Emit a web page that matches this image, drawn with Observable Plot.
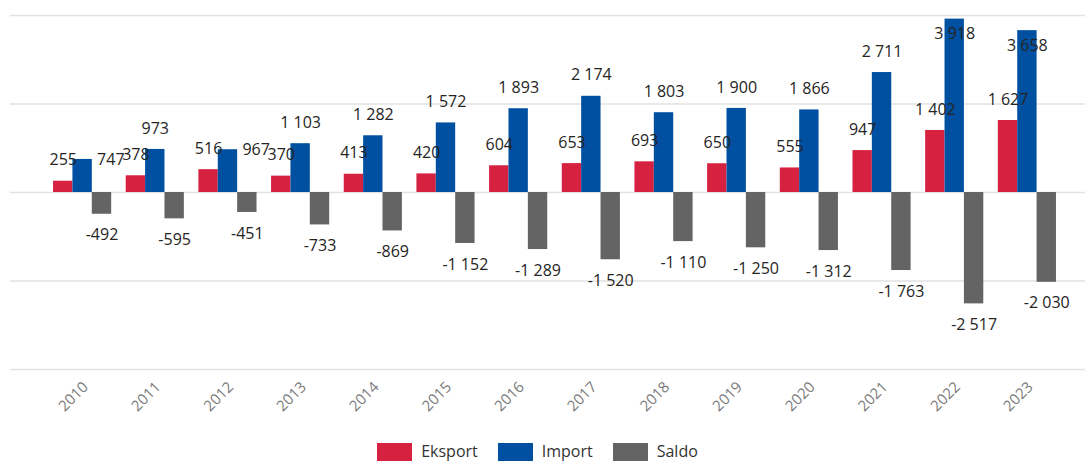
<!DOCTYPE html>
<html><head><meta charset="utf-8">
<script src="https://cdn.jsdelivr.net/npm/d3@7"></script>
<script src="https://cdn.jsdelivr.net/npm/@observablehq/plot@0.6"></script>
<style>
body{margin:0;background:#fff;font-family:"Open Sans",sans-serif;}
#chart{position:relative;width:1085px;height:440px;}
#chart svg{position:absolute;left:0;top:0;}
#legend{display:flex;justify-content:center;gap:20px;margin-top:3px;padding-right:10px;font-size:16px;line-height:17px;color:#333;}
.item{display:flex;align-items:flex-start;}
.sw{width:35px;height:18px;margin-right:9px;}
</style></head><body>
<div id="chart"></div><div id="legend"></div>
<script>
const years = ["2010","2011","2012","2013","2014","2015","2016","2017","2018","2019","2020","2021","2022","2023"];
const series = ["Eksport","Import","Saldo"];
const colors = ["#d62240","#0050a2","#646464"];
const eksport = [255,378,516,370,413,420,604,653,693,650,555,947,1402,1627];
const importV = [747,973,967,1103,1282,1572,1893,2174,1803,1900,1866,2711,3918,3658];
const saldo = [-492,-595,-451,-733,-869,-1152,-1289,-1520,-1110,-1250,-1312,-1763,-2517,-2030];
const gridValues = [-4000,-2000,0,2000,4000];

const yDomain = [-4000, 4000];
const W = 1085, H = 440, marginTop = 15, plotBottom = 369;
const pxPerUnit = (plotBottom - marginTop) / (yDomain[1] - yDomain[0]);
const labelGap = 21;

const loc = d3.formatLocale({decimal: ",", thousands: " ", grouping: [3], currency: ["", ""], minus: "-"});
const fmt = loc.format(",d");

const rows = [];
years.forEach((y, i) => {
  [eksport[i], importV[i], saldo[i]].forEach((v, j) => {
    const s = series[j];
    let mode;
    if (v < 0) mode = "below";
    else if (v + (labelGap + 7) / pxPerUnit > yDomain[1]) mode = "inside";
    else if (s === "Import" && (importV[i] - eksport[i]) * pxPerUnit < 24) mode = "side";
    else mode = "above";
    rows.push({year: y, series: s, value: v, mode});
  });
});

// background grid layer (full width)
const grid = Plot.plot({
  width: W, height: H,
  marginTop, marginBottom: H - plotBottom, marginLeft: 10, marginRight: 0,
  style: {background: "#fff"},
  x: {axis: null},
  y: {domain: yDomain, axis: null},
  marks: [Plot.ruleY(gridValues, {stroke: "#e2e2e2", strokeWidth: 1.3})]
});

const common = {fx: "year", x: "series", y: "value", text: d => fmt(d.value), fontSize: 16, fill: "#252423"};

const chart = Plot.plot({
  width: W, height: H,
  marginTop, marginBottom: H - plotBottom, marginLeft: 38.5, marginRight: 14.5,
  style: {fontFamily: "'Open Sans', sans-serif", background: "transparent"},
  fx: {domain: years, paddingInner: 0.2, paddingOuter: 0.2, round: false, label: null, axis: null},
  x: {domain: series, padding: 0, round: false, axis: null},
  y: {domain: yDomain, axis: null},
  color: {domain: series, range: colors},
  marks: [
    Plot.barY(rows, {fx: "year", x: "series", y: "value", fill: "series"}),
    Plot.text(rows.filter(d => d.mode === "above"), {...common, dy: -labelGap}),
    Plot.text(rows.filter(d => d.mode === "below"), {...common, dy: labelGap}),
    Plot.text(rows.filter(d => d.mode === "inside"), {...common, dy: 15}),
    Plot.text(rows.filter(d => d.mode === "side"), {...common, textAnchor: "start", dx: 14.5}),
    Plot.axisFx({anchor: "bottom", tickRotate: -45, tickSize: 0, tickPadding: 15, fontSize: 15, dx: 3, color: "#7a7a7a", label: null})
  ]
});
const holder = document.getElementById("chart");
holder.appendChild(grid);
holder.appendChild(chart);

const legend = document.getElementById("legend");
series.forEach((s, i) => {
  const it = document.createElement("div");
  it.className = "item";
  it.innerHTML = `<div class="sw" style="background:${colors[i]}"></div><span>${s}</span>`;
  legend.appendChild(it);
});
</script>
</body></html>
